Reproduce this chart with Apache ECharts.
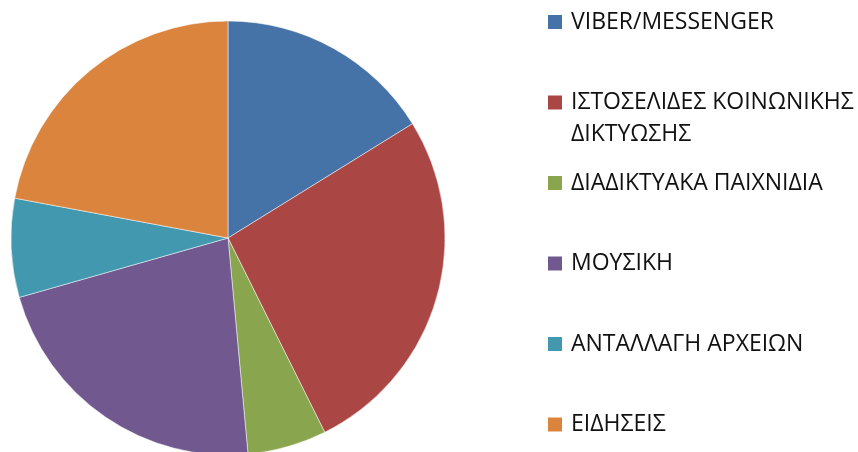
<!DOCTYPE html>
<html>
<head>
<meta charset="utf-8">
<script src="https://cdn.jsdelivr.net/npm/echarts@6/dist/echarts.min.js"></script>
<style>
  html, body { margin: 0; padding: 0; background: #fff; }
  #chart { width: 858px; height: 452px; }
</style>
</head>
<body>
<div id="chart"></div>
<script>
// κατηγορίες και τιμές (εκτίμηση από την εικόνα)
var categories = ['VIBER/MESSENGER', 'ΙΣΤΟΣΕΛΙΔΕΣ ΚΟΙΝΩΝΙΚΗΣ ΔΙΚΤΥΩΣΗΣ', 'ΔΙΑΔΙΚΤΥΑΚΑ ΠΑΙΧΝΙΔΙΑ', 'ΜΟΥΣΙΚΗ', 'ΑΝΤΑΛΛΑΓΗ ΑΡΧΕΙΩΝ', 'ΕΙΔΗΣΕΙΣ'];
var values = [22, 36, 8, 30, 10, 30];
// πώς φαίνεται η ετικέτα στο υπόμνημα
var legendLabels = ['VIBER/MESSENGER', 'ΙΣΤΟΣΕΛΙΔΕΣ ΚΟΙΝΩΝΙΚΗΣ\nΔΙΚΤΥΩΣΗΣ', 'ΔΙΑΔΙΚΤΥΑΚΑ ΠΑΙΧΝΙΔΙΑ', 'ΜΟΥΣΙΚΗ', 'ΑΝΤΑΛΛΑΓΗ ΑΡΧΕΙΩΝ', 'ΕΙΔΗΣΕΙΣ'];
var colors = ['#4572A7', '#AA4643', '#89A54E', '#71588F', '#4198AF', '#DB843D'];

var chart = echarts.init(document.getElementById('chart'));

var pieData = categories.map(function (name, i) {
  return { name: name, value: values[i] };
});

// ένα υπόμνημα για κάθε κατηγορία, ώστε να μπαίνουν στη σωστή απόσταση
var legends = categories.map(function (name, i) {
  var centerY = 22 + i * 80.5;
  var twoLines = legendLabels[i].indexOf('\n') >= 0;
  // για δύο γραμμές βάζω μια κενή γραμμή από πάνω, έτσι η πρώτη μένει στο ύψος του τετραγώνου
  var label = twoLines ? ' \n' + legendLabels[i] : legendLabels[i];
  return {
    data: [name],
    orient: 'vertical',
    left: 548,
    top: twoLines ? centerY - 48 : centerY - 16,
    padding: 0,
    itemWidth: 14,
    itemHeight: 14,
    icon: 'rect',
    itemStyle: { borderWidth: 0 },
    selectedMode: false,
    formatter: function () { return label; },
    textStyle: {
      fontFamily: 'Open Sans',
      fontSize: 23,
      color: '#111',
      lineHeight: 32,
      padding: [0, 0, 0, 4]
    }
  };
});

var option = {
  backgroundColor: '#fff',
  color: colors,
  animation: false,
  legend: legends,
  series: [{
    type: 'pie',
    center: [228, 238],
    radius: 217,
    startAngle: 90,
    clockwise: true,
    label: { show: false },
    labelLine: { show: false },
    emphasis: { disabled: true },
    itemStyle: {
      borderColor: '#fff',
      borderWidth: 0.5
    },
    data: pieData
  }]
};

chart.setOption(option);
</script>
</body>
</html>
